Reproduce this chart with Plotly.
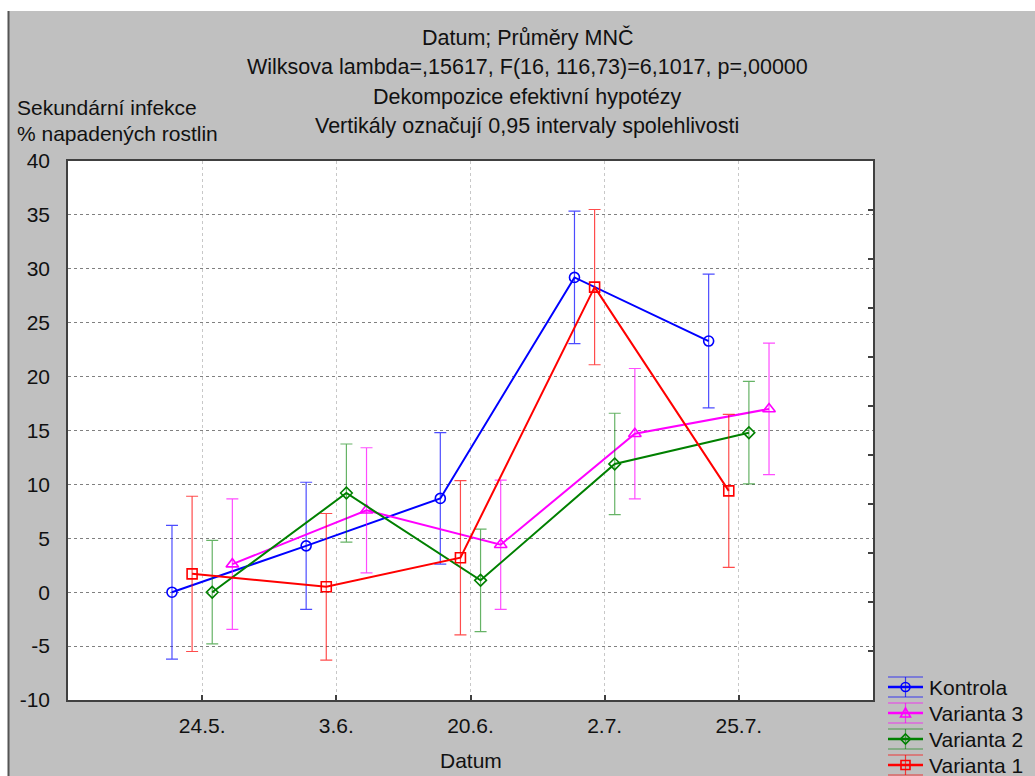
import plotly.graph_objects as go

# Sampling dates (categories on the x axis)
dates = ["24.5.", "3.6.", "20.6.", "2.7.", "25.7."]

# Group means (% infected plants) and 0.95 confidence half-widths
kontrola_mean = [0.0, 4.3, 8.7, 29.2, 23.3]
kontrola_ci = [6.2, 5.9, 6.1, 6.15, 6.2]

varianta3_mean = [2.6, 7.6, 4.4, 14.7, 17.0]
varianta3_ci = [6.05, 5.8, 6.0, 6.05, 6.1]

varianta2_mean = [0.0, 9.2, 1.1, 11.9, 14.8]
varianta2_ci = [4.8, 4.55, 4.75, 4.7, 4.75]

varianta1_mean = [1.7, 0.5, 3.2, 28.3, 9.4]
varianta1_ci = [7.2, 6.8, 7.15, 7.2, 7.1]

y_ticks = [-10, -5, 0, 5, 10, 15, 20, 25, 30, 35, 40]
y_tick_labels = ["-10", "-5", "0", "5", "10", "15", "20", "25", "30", "35", "40"]

# Canvas geometry (pixels)
W, H = 1035, 776
L, R, T, B = 68, 873, 161, 700
FONT = "Liberation Sans, Arial, sans-serif"
TXT = "#111111"


def fx(px):
    return (px - L) / (R - L)


def fy(py):
    return (B - py) / (B - T)


# name, means, CI, line colour, error-bar colour, symbol, size, x shift, legend glyph path
series = [
    ("Kontrola", kontrola_mean, kontrola_ci, "#0000ff", "rgba(0,0,255,0.7)", "circle-open", 10, -0.225, "circle"),
    ("Varianta 3", varianta3_mean, varianta3_ci, "#ff00ff", "rgba(255,0,255,0.7)", "triangle-up-open", 11, 0.225,
     "M-5,-4 L5,-4 L0,5 Z"),
    ("Varianta 2", varianta2_mean, varianta2_ci, "#008000", "rgba(0,128,0,0.6)", "diamond-open", 9, 0.075,
     "M0,5 L5,0 L0,-5 L-5,0 Z"),
    ("Varianta 1", varianta1_mean, varianta1_ci, "#ff0000", "rgba(255,0,0,0.7)", "square-open", 10, -0.075, "rect"),
]

fig = go.Figure()

for name, mean, ci, color, ecolor, symbol, size, shift, _ in series:
    xs = [i + shift for i in range(len(dates))]
    fig.add_trace(go.Scatter(
        x=xs, y=mean, name=name, mode="lines+markers", showlegend=False,
        line=dict(color=color, width=2),
        marker=dict(symbol=symbol, size=size, color=color, line=dict(color=color, width=1.6)),
        error_y=dict(type="data", array=ci, visible=True, color=ecolor, thickness=1.2, width=6),
    ))

# Helper trace so the right-hand tick axis is drawn
fig.add_trace(go.Scatter(x=[None], y=[None], yaxis="y2", showlegend=False, hoverinfo="skip"))

annotations = []
title_lines = [
    ("Datum; Průměry MNČ", 38),
    ("Wilksova lambda=,15617, F(16, 116,73)=6,1017, p=,00000", 67),
    ("Dekompozice efektivní hypotézy", 97),
    ("Vertikály označují 0,95 intervaly spolehlivosti", 126),
]
for text, py in title_lines:
    annotations.append(dict(text=text, x=fx(527), y=fy(py), xref="paper", yref="paper",
                            xanchor="center", yanchor="middle", showarrow=False,
                            font=dict(family=FONT, size=21.5, color=TXT)))

for text, py in [("Sekundární infekce", 107), ("% napadených rostlin", 133)]:
    annotations.append(dict(text=text, x=fx(15), y=fy(py), xref="paper", yref="paper",
                            xanchor="left", yanchor="middle", showarrow=False,
                            font=dict(family=FONT, size=21, color=TXT)))

annotations.append(dict(text="Datum", x=2, y=fy(760), xref="x", yref="paper",
                        xanchor="center", yanchor="middle", showarrow=False,
                        font=dict(family=FONT, size=21, color=TXT)))

shapes = [
    # white strip along the top and left edges of the panel
    dict(type="rect", xref="paper", yref="paper", x0=fx(-5), x1=fx(W + 5), y0=fy(11), y1=fy(-5),
         fillcolor="white", line=dict(width=0), layer="below"),
    dict(type="rect", xref="paper", yref="paper", x0=fx(-5), x1=fx(8), y0=fy(H + 5), y1=fy(-5),
         fillcolor="white", line=dict(width=0), layer="below"),
    # dark left frame line
    dict(type="line", xref="paper", yref="paper", x0=fx(8.5), x1=fx(8.5), y0=fy(H + 5), y1=fy(11),
         line=dict(color="#555555", width=2)),
]

# Legend: line with error-bar glyph and marker, one row per group
legend_rows = [687, 713, 739, 765]
lx0, lx1, lxc = 888, 923, 905.5
for (name, _, _, color, ecolor, _, _, _, glyph), ly in zip(series, legend_rows):
    shapes.append(dict(type="line", xref="paper", yref="paper", x0=fx(lx0), x1=fx(lx1),
                       y0=fy(ly), y1=fy(ly), line=dict(color=color, width=2.5)))
    for cy in (ly - 10, ly + 10):
        shapes.append(dict(type="line", xref="paper", yref="paper", x0=fx(lx0), x1=fx(lx1),
                           y0=fy(cy), y1=fy(cy), line=dict(color=ecolor, width=1.2)))
    shapes.append(dict(type="line", xref="paper", yref="paper", x0=fx(lxc), x1=fx(lxc),
                       y0=fy(ly - 10), y1=fy(ly + 10), line=dict(color=ecolor, width=1.2)))
    common = dict(xref="paper", yref="paper", xsizemode="pixel", ysizemode="pixel",
                  xanchor=fx(lxc), yanchor=fy(ly), line=dict(color=color, width=1.6),
                  fillcolor="rgba(0,0,0,0)")
    if glyph in ("circle", "rect"):
        shapes.append(dict(type=glyph, x0=-4.5, x1=4.5, y0=-4.5, y1=4.5, **common))
    else:
        shapes.append(dict(type="path", path=glyph, **common))
    annotations.append(dict(text=name, x=fx(927), y=fy(ly), xref="paper", yref="paper",
                            xanchor="left", yanchor="middle", showarrow=False,
                            font=dict(family=FONT, size=21, color=TXT)))

fig.update_layout(
    width=W, height=H,
    margin=dict(l=L, r=W - R, t=T, b=H - B, pad=0, autoexpand=False),
    paper_bgcolor="#c0c0c0",
    plot_bgcolor="white",
    font=dict(family=FONT, size=21, color=TXT),
    showlegend=False,
    xaxis=dict(range=[-1, 5], tickmode="array", tickvals=list(range(len(dates))), ticktext=dates,
               showgrid=True, gridcolor="#c8c8c8", griddash="dot", gridwidth=1,
               zeroline=False, showline=True, mirror=True, linecolor="#404040", linewidth=1.5,
               ticks="inside", ticklen=5, tickcolor="#404040", tickwidth=1.5,
               tickfont=dict(family=FONT, size=21, color=TXT), ticklabelstandoff=6),
    yaxis=dict(range=[-10, 40], tickmode="array", tickvals=y_ticks, ticktext=y_tick_labels,
               showgrid=True, gridcolor="#808080", griddash="dot", gridwidth=1,
               zeroline=False, showline=True, mirror=True, linecolor="#404040", linewidth=1.5,
               ticks="", tickfont=dict(family=FONT, size=21, color=TXT), ticklabelstandoff=12),
    yaxis2=dict(range=[0, 11], overlaying="y", side="right", dtick=1, showgrid=False,
                zeroline=False, showticklabels=False, ticks="inside", ticklen=5,
                tickcolor="#404040", tickwidth=1.5, showline=False),
    annotations=annotations,
    shapes=shapes,
)

fig.write_html("out.html")
